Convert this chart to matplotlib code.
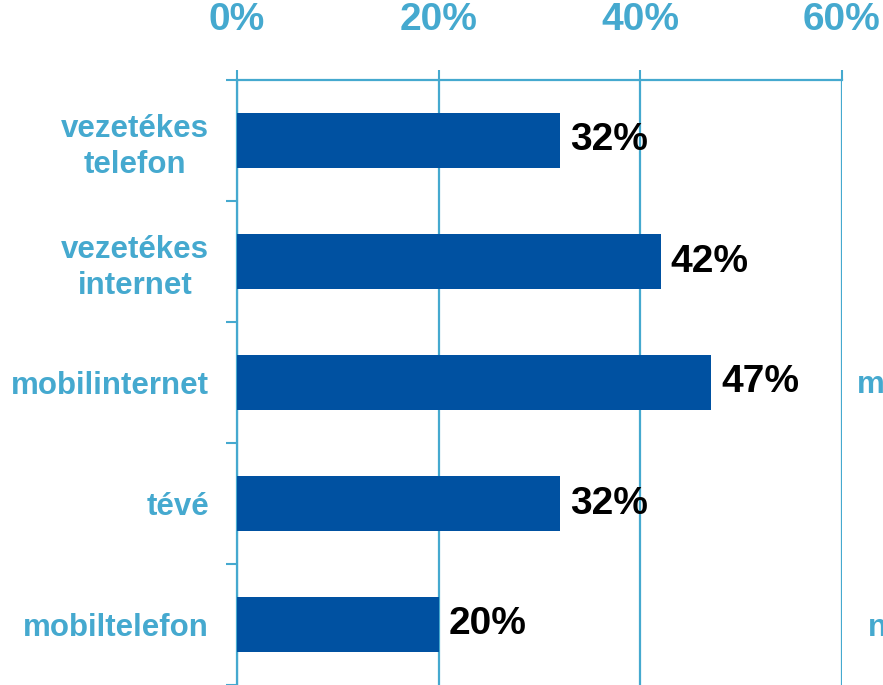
import matplotlib
matplotlib.use("Agg")
import matplotlib.pyplot as plt
import numpy as np

plt.rcParams['font.family'] = ['Liberation Sans', 'DejaVu Sans']

# data
categories = ["vezetékes\ntelefon", "vezetékes\ninternet", "mobilinternet", "tévé", "mobiltelefon"]
values = [32, 42, 47, 32, 20]
xticks = [0, 20, 40, 60]
xtick_labels = ["0%", "20%", "40%", "60%"]

bar_color = "#0051A1"
light = "#45A9CF"

W, H = 883, 685
fig = plt.figure(figsize=(W / 100, H / 100), dpi=100)
ax = fig.add_axes([237 / W, 0, (842 - 237) / W, (H - 80) / H])

y = np.arange(len(categories))
ax.barh(y, values, height=0.45, color=bar_color, zorder=3)
ax.set_ylim(len(categories) - 0.5, -0.5)
ax.set_xlim(0, 60)

for yi, v in zip(y, values):
    ax.text(v + 1.0, yi, f"{v}%", va="center", ha="left", fontsize=28,
            fontweight="bold", color="black", zorder=4)

# top axis
ax.xaxis.tick_top()
ax.set_xticks(xticks)
ax.set_xticklabels(xtick_labels)
ax.tick_params(axis="x", which="major", length=7, width=1.5, color=light,
               labelsize=28, labelcolor=light, pad=23)
for lab in ax.get_xticklabels():
    lab.set_fontweight("bold")
ax.grid(axis="x", color=light, linewidth=1.6, zorder=0)

# categories on left
ax.set_yticks(y)
ax.set_yticklabels(categories, linespacing=1.25, multialignment="center")
ax.set_yticks(np.arange(-0.5, len(categories) + 0.5, 1), minor=True)
ax.tick_params(axis="y", which="major", length=0, labelsize=22.5,
               labelcolor=light, pad=20)
ax.tick_params(axis="y", which="minor", length=8, width=1.5, color=light)
for lab in ax.get_yticklabels():
    lab.set_fontweight("bold")

for s in ["right", "bottom"]:
    ax.spines[s].set_visible(False)
for s in ["left", "top"]:
    ax.spines[s].set_color(light)
    ax.spines[s].set_linewidth(1.6)

# labels cut off at the right edge
fig.text(857 / W, 1 - 385 / H, "m", fontsize=22.5, fontweight="bold",
         color=light, va="center", ha="left")
fig.text(868 / W, 1 - 628 / H, "n", fontsize=22.5, fontweight="bold",
         color=light, va="center", ha="left")

fig.savefig("out.png", dpi=100)
